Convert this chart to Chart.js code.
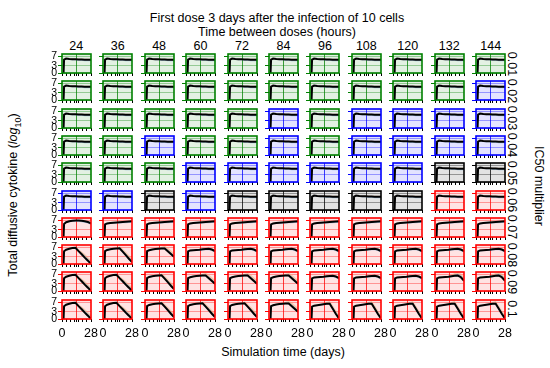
<!DOCTYPE html>
<html>
<head>
<meta charset="utf-8">
<script src="https://cdn.jsdelivr.net/npm/chart.js@4.4.1/dist/chart.umd.min.js"></script>
<style>
  body { margin: 0; background: #fff; font-family: "Liberation Sans", Arial, sans-serif; }
  #wrap { position: relative; width: 550px; height: 368px; overflow: hidden; }
  .t { position: absolute; white-space: nowrap; font-size: 12.5px; color: #000; line-height: 1; }
  canvas { position: absolute; }
</style>
</head>
<body>
<div id="wrap"></div>
<script>
// headers
const INTERVALS = ['24', '36', '48', '60', '72', '84', '96', '108', '120', '132', '144'];
const IC50 = ['0.01', '0.02', '0.03', '0.04', '0.05', '0.06', '0.07', '0.08', '0.09', '0.1'];
const X_TICKS = [0, 4, 8, 12, 14, 16, 20, 24, 28];
const Y_TICKS = [0, 3, 7];

// sample days and the line shapes (log10 cytokine)
const DAYS      = [0, 1.5, 2, 4, 7, 10, 13, 16, 19, 22, 25, 28];
const FLAT      = [0, 0, 5.6, 6.1, 5.9, 5.8, 5.8, 5.7, 5.7, 5.6, 5.6, 5.6];
const RISING    = [0, 0, 5.3, 5.7, 5.9, 6.0, 6.1, 6.2, 6.3, 6.4, 6.5, 6.6];
const HUMP      = [0, 0, 5.5, 6.2, 6.6, 6.8, 6.9, 6.9, 6.8, 6.6, 6.3, 5.8];
const DROP_13   = [0, 0, 5.4, 6.0, 6.4, 6.7, 6.8, 5.4, 4.1, 2.7, 1.4, 0];
const DROP_16   = [0, 0, 5.4, 5.9, 6.2, 6.4, 6.5, 6.6, 5.2, 3.7, 2.2, 0.8];
const DROP_19   = [0, 0, 5.4, 5.8, 6.1, 6.3, 6.4, 6.5, 6.5, 5.4, 4.2, 3.0];
const SAG_END   = [0, 0, 5.3, 5.7, 5.8, 5.9, 6.0, 6.2, 6.3, 6.4, 6.1, 5.4];
const SAG_DEEP  = [0, 0, 5.3, 5.7, 5.8, 5.9, 6.0, 6.2, 6.4, 6.5, 5.8, 4.3];
const DROP_LATE = [0, 0, 5.2, 5.6, 5.8, 6.0, 6.2, 6.4, 6.4, 4.3, 2.1, 0.2];

// spread of the replicate runs around the mean line
const FLAT_LO = [0, 0, 0.3, 0.3, 0.35, 0.4, 0.45, 0.5, 0.55, 0.6, 0.65, 0.7];
const FLAT_HI = [0, 0, 0.1, 0.15, 0.2, 0.2, 0.25, 0.3, 0.3, 0.35, 0.35, 0.4];
const DROP_LO = [0, 0, 0.3, 0.3, 0.3, 0.3, 0.3, 0.3, 0.4, 0.4, 0.4, 0.3];
const DROP_HI = [0, 0, 0.1, 0.1, 0.2, 0.2, 0.3, 0.8, 1.2, 1.5, 1.6, 1.6];

// which shape each panel has, row by row (IC50) and column (interval)
const SHAPE_ROWS = [
  'AAAAAAAAAAA', 'AAAAAAAAAAA', 'AAAAAAAAAAA', 'AAAAAAAAAAA', 'AAAAAAAAAAA',
  'AAAAAAAAAAA', 'CBBBBBBBBBB', 'DEFGGGGGGGG', 'DDEFFFGGGII', 'DDEEEFHHHHH'
];
// frame colour of each panel: G green, B blue, K black, R red
const COLOR_ROWS = [
  'GGGGGGGGGGG', 'GGGGGGGGGGB', 'GGGGGBGBBBB', 'GGBGGBGBBBB', 'GGGBBBBBBKK',
  'BBKBKKKKKRR', 'RRRRRRRRRRR', 'RRRRRRRRRRR', 'RRRRRRRRRRR', 'RRRRRRRRRRR'
];

const SHAPES = { A: FLAT, B: RISING, C: HUMP, D: DROP_13, E: DROP_16, F: DROP_19, G: SAG_END, I: SAG_DEEP, H: DROP_LATE };
const DROPPING = 'DEFHI';
const RGB = { G: '0,128,0', B: '0,0,255', K: '0,0,0', R: '255,0,0' };

const wrap = document.getElementById('wrap');

// layout of the grid
const BOX_L = 61.7, BOX_DX = 41.45, BOX_W = 29;
const BOX_T = 54, BOX_DY = 27.3, BOX_H = 19;
const PAD_L = 14, PAD_R = 9, PAD_T = 5;

function addText(html, x, y, rot, size) {
  const d = document.createElement('div');
  d.className = 't';
  d.innerHTML = html;
  if (size) d.style.fontSize = size + 'px';
  d.style.left = x + 'px';
  d.style.top = y + 'px';
  d.style.transform = 'translate(-50%,-50%)' + (rot ? ' rotate(' + rot + 'deg)' : '');
  wrap.appendChild(d);
}

addText('First dose 3 days after the infection of 10 cells', 277, 18);
addText('Time between doses (hours)', 277, 32);
addText('Simulation time (days)', 283, 352);
addText('Total diffusive cytokine (<i>log</i><sub style="font-size:9px">10</sub>)', 15, 195, -90);
addText('IC50 multiplier', 539, 186, 90);

INTERVALS.forEach((lab, c) => addText(lab, BOX_L + c * BOX_DX + BOX_W / 2, 46));
IC50.forEach((lab, r) => addText(lab, 512, BOX_T + r * BOX_DY + BOX_H / 2, 90));

const panelBox = {
  id: 'panelBox',
  beforeDraw(chart, args, opts) {
    const a = chart.chartArea, ctx = chart.ctx;
    ctx.save();
    ctx.fillStyle = opts.fill;
    ctx.fillRect(a.left, a.top, a.right - a.left, a.bottom - a.top);
    ctx.restore();
  },
  afterDatasetsDraw(chart, args, opts) {
    const a = chart.chartArea, ctx = chart.ctx;
    ctx.save();
    ctx.strokeStyle = opts.stroke;
    ctx.lineWidth = 1.6;
    ctx.strokeRect(a.left, a.top, a.right - a.left, a.bottom - a.top);
    ctx.restore();
  }
};

function pts(vals) {
  return DAYS.map((d, i) => ({ x: d, y: vals[i] }));
}

for (let r = 0; r < IC50.length; r++) {
  for (let c = 0; c < INTERVALS.length; c++) {
    const mid = SHAPES[SHAPE_ROWS[r][c]];
    const drop = DROPPING.includes(SHAPE_ROWS[r][c]);
    const lo = drop ? DROP_LO : FLAT_LO;
    const hi = drop ? DROP_HI : FLAT_HI;
    const rgb = RGB[COLOR_ROWS[r][c]];
    const bottom = r === IC50.length - 1;
    const xh = bottom ? 20 : 4;

    const cv = document.createElement('canvas');
    cv.width = PAD_L + BOX_W + PAD_R;
    cv.height = PAD_T + BOX_H + xh;
    cv.style.left = Math.round(BOX_L + c * BOX_DX - PAD_L) + 'px';
    cv.style.top = Math.round(BOX_T + r * BOX_DY - PAD_T) + 'px';
    wrap.appendChild(cv);

    new Chart(cv, {
      type: 'line',
      data: {
        datasets: [
          // mean line first so it is drawn on top
          { data: pts(mid), borderColor: '#000', borderWidth: 2, pointRadius: 0, tension: 0, fill: false },
          { data: pts(mid.map((v, i) => v - lo[i])), borderWidth: 0, pointRadius: 0, fill: false },
          { data: pts(mid.map((v, i) => v + hi[i] * 0.5)), borderWidth: 0, pointRadius: 0,
            fill: '-1', backgroundColor: 'rgba(110,165,215,0.6)' },
          { data: pts(mid.map((v, i) => v - lo[i] * 0.3)), borderWidth: 0, pointRadius: 0, fill: false },
          { data: pts(mid.map((v, i) => v + hi[i])), borderWidth: 0, pointRadius: 0,
            fill: '-1', backgroundColor: 'rgba(235,170,110,0.5)' }
        ]
      },
      options: {
        animation: false,
        responsive: false,
        events: [],
        layout: { padding: { top: PAD_T, right: PAD_R, left: 0, bottom: 0 } },
        plugins: {
          legend: { display: false },
          tooltip: { enabled: false },
          panelBox: { fill: 'rgba(' + rgb + ',0.11)', stroke: 'rgb(' + rgb + ')' }
        },
        scales: {
          x: {
            type: 'linear', min: 0, max: 28,
            afterBuildTicks: s => { s.ticks = X_TICKS.map(v => ({ value: v })); },
            afterFit: s => { s.height = xh; s.paddingLeft = 0; s.paddingRight = 0; },
            border: { display: false },
            grid: {
              color: ctx => (ctx.tick && ctx.tick.value === 14) ? 'rgba(' + rgb + ',0.75)' : 'rgba(0,0,0,0)',
              tickColor: '#000', tickLength: 3, lineWidth: 1
            },
            ticks: {
              display: bottom, maxRotation: 0, autoSkip: false, padding: 4,
              color: '#000', font: { family: 'Liberation Sans', size: 12.5 },
              callback: v => (v === 0 || v === 28) ? String(v) : ''
            }
          },
          y: {
            min: 0, max: 8,
            afterBuildTicks: s => { s.ticks = Y_TICKS.map(v => ({ value: v })); },
            afterFit: s => { s.width = PAD_L; s.paddingTop = 0; s.paddingBottom = 0; },
            border: { display: false },
            grid: { color: 'rgba(' + rgb + ',0.35)', tickColor: 'rgb(' + rgb + ')', tickLength: 4, lineWidth: 1 },
            ticks: {
              display: c === 0, autoSkip: false, padding: 1, color: '#000',
              font: { family: 'Liberation Sans', size: 10.5 }
            }
          }
        }
      },
      plugins: [panelBox]
    });
  }
}
</script>
</body>
</html>
